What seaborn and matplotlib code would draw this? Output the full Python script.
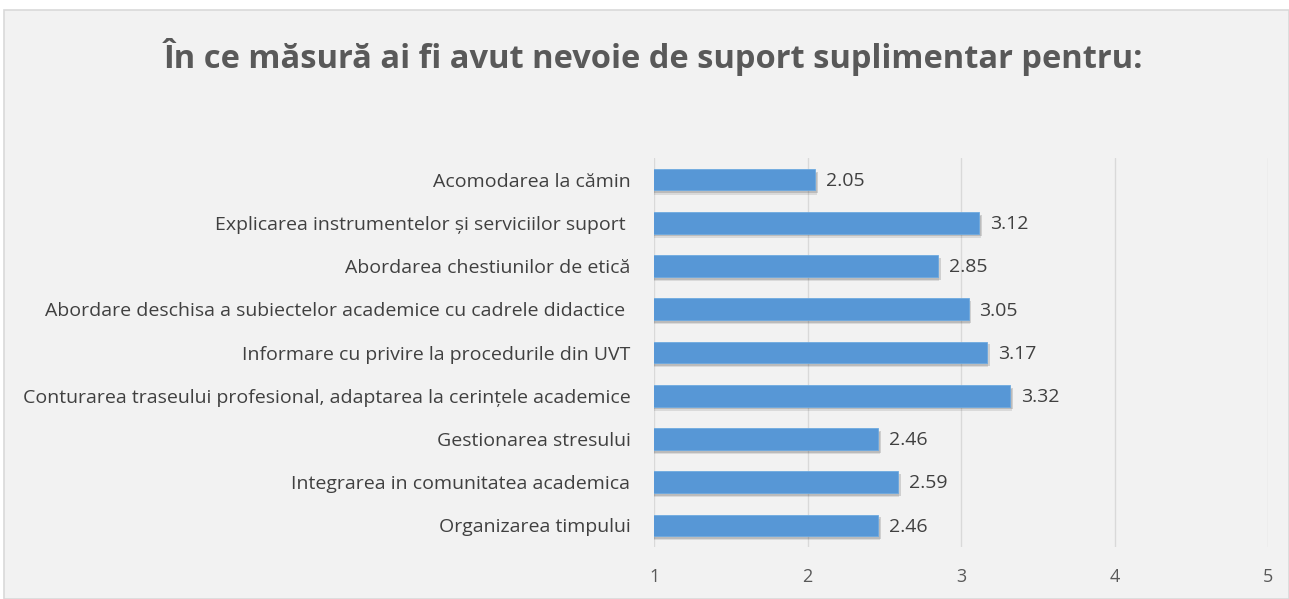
import matplotlib
matplotlib.use("Agg")
import matplotlib.pyplot as plt
import matplotlib.patheffects as pe
from matplotlib.patches import Rectangle
import seaborn as sns
import pandas as pd

categories = [
    "Acomodarea la cămin",
    "Explicarea instrumentelor și serviciilor suport ",
    "Abordarea chestiunilor de etică",
    "Abordare deschisa a subiectelor academice cu cadrele didactice ",
    "Informare cu privire la procedurile din UVT",
    "Conturarea traseului profesional, adaptarea la cerințele academice",
    "Gestionarea stresului",
    "Integrarea in comunitatea academica",
    "Organizarea timpului",
]
values = [2.05, 3.12, 2.85, 3.05, 3.17, 3.32, 2.46, 2.59, 2.46]
x_ticks = [1, 2, 3, 4, 5]
title = "În ce măsură ai fi avut nevoie de suport suplimentar pentru:"

df = pd.DataFrame({"cat": categories, "val": values})

sns.set_theme(style="white")
plt.rcParams["font.family"] = ["Open Sans", "DejaVu Sans"]

fig = plt.figure(figsize=(12.89, 5.99), dpi=100, facecolor="white")
fig.patches.append(Rectangle((0.003, 0.0), 0.997, 0.983, transform=fig.transFigure,
                             facecolor="#f2f2f2", edgecolor="#d9d9d9", linewidth=1.2, zorder=-10))
ax = fig.add_axes([0.5074, 0.0868, 0.4763, 0.6494])
ax.set_facecolor("#f2f2f2")
ax.patch.set_alpha(0)

sns.barplot(data=df, x="val", y="cat", orient="h", color="#5b9bd5", width=0.5,
            saturation=1, ax=ax, zorder=3)
for p in ax.patches:
    p.set_facecolor("#5797d6")
    p.set_edgecolor("#6eaae0")
    p.set_linewidth(0.6)
    p.set_path_effects([
        pe.SimplePatchShadow(offset=(1, -3), alpha=0.12, shadow_rgbFace="#303030"),
        pe.SimplePatchShadow(offset=(2, -2), alpha=0.18, shadow_rgbFace="#303030"),
        pe.Normal()])

ax.set_xlim(1, 5)
ax.set_ylim(len(categories) - 0.5, -0.5)
ax.set_xticks(x_ticks)
ax.set_xticklabels([str(t) for t in x_ticks])
ax.xaxis.grid(True, color="#d9d9d9", linewidth=1)
ax.yaxis.grid(False)
ax.set_axisbelow(True)
for s in ax.spines.values():
    s.set_visible(False)
ax.tick_params(axis="x", length=0, pad=15, labelsize=13, labelcolor="#595959")
ax.tick_params(axis="y", length=0, pad=17, labelsize=14, labelcolor="#404040")
ax.set_xlabel("")
ax.set_ylabel("")

for i, v in enumerate(values):
    ax.text(v + 0.07, i + 0.03, f"{v:.2f}", va="center", ha="left", fontsize=14, color="#404040")

fig.text(0.507, 0.905, title, ha="center", va="center", fontsize=23.5,
         fontweight="bold", color="#595959")

fig.savefig("out.png", dpi=100, facecolor=fig.get_facecolor())
